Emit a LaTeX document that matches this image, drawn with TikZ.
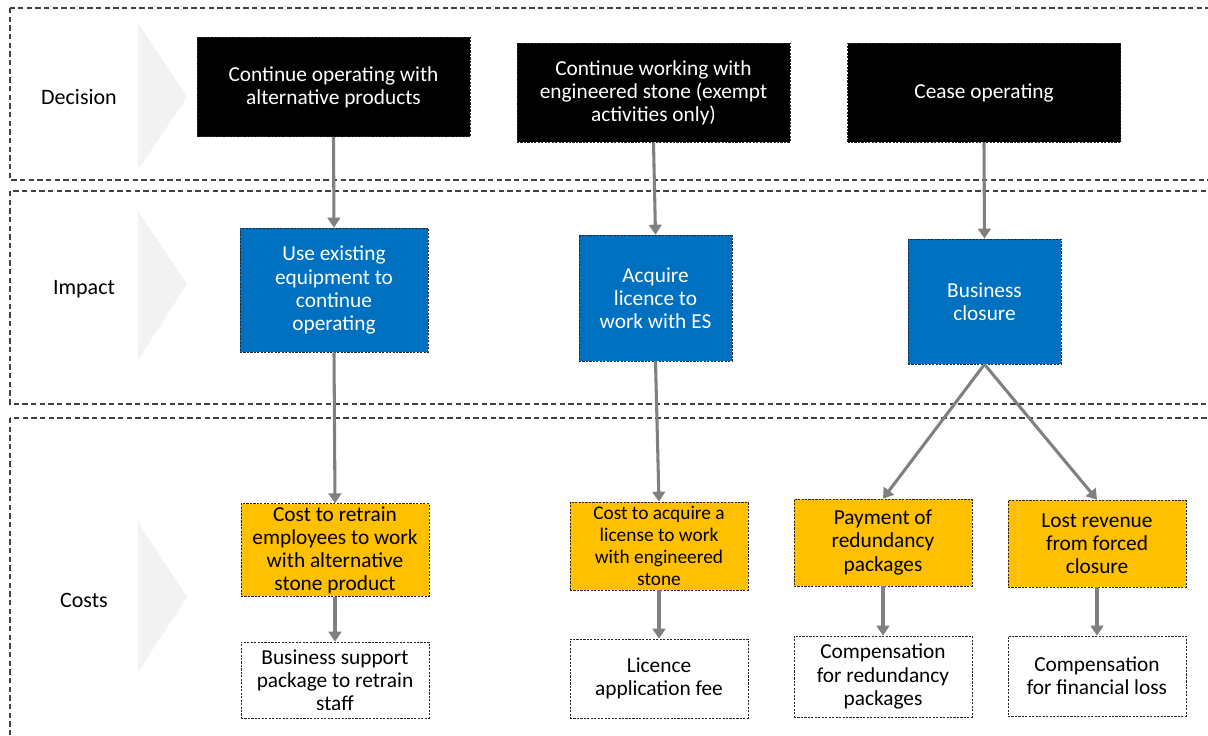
\documentclass[tikz,border=0pt]{standalone}
\usepackage{fontspec}
\setmainfont{Carlito}
\usetikzlibrary{arrows.meta, positioning}

\definecolor{eyblue}{HTML}{0070C0}
\definecolor{eyyellow}{HTML}{FFC000}
\definecolor{arrowgray}{HTML}{808080}
\definecolor{chevgray}{HTML}{F2F2F2}
\definecolor{bandline}{HTML}{404040}

\tikzset{
  box/.style={draw=black!85, dash pattern=on 1.6pt off 1pt, line width=0.5pt, align=center,
    inner sep=2pt, font=\fontsize{16}{17.3}\selectfont},
  decision/.style={box, fill=black, text=white, minimum width=204.75pt, minimum height=74.5pt},
  impact/.style={box, fill=eyblue, text=white},
  cost/.style={box, fill=eyyellow, text=black},
  offset/.style={box, fill=white, text=black},
  band/.style={draw=bandline, line width=0.9pt, dash pattern=on 4pt off 2.5pt},
  chevron/.style={fill=chevgray, draw=none},
  rowlabel/.style={font=\fontsize{16.5}{18}\selectfont, text=black},
  flow/.style={draw=arrowgray, line width=2.3pt, -{Triangle[length=7.5pt, width=9.5pt]}}
}

\begin{document}
\begin{tikzpicture}[x=0.75pt, y=-0.75pt]

  \useasboundingbox (0,0) rectangle (1208,736);
  \clip (0,0) rectangle (1208,736);

  % Baender
  \draw[band] (10,8) rectangle (1240,180);
  \draw[band] (10,191) rectangle (1240,404);
  \draw[band] (10,418) rectangle (1240,770);

  % Pfeile links
  \fill[chevron] (138,23) -- (187,97) -- (138,170) -- cycle;
  \fill[chevron] (138,211) -- (187,284) -- (138,360) -- cycle;
  \fill[chevron] (138,522) -- (187,597) -- (138,672) -- cycle;

  \node[rowlabel] (lbldecision) at (79,97) {Decision};
  \node[rowlabel] (lblimpact) at (84,289) {Impact};
  \node[rowlabel] (lblcosts) at (84,600) {Costs};

  % Entscheidungen
  \node[decision] (altprod) at (333.5,87) {Continue operating with\\alternative products};
  \node[decision] (exempt) at (653.5,92.5) {Continue working with\\engineered stone (exempt\\activities only)};
  \node[decision] (cease) at (984,92.5) {Cease operating};

  % Auswirkungen
  \node[impact, minimum width=141pt, minimum height=93pt] (equip) at (334,290) {Use existing\\equipment to\\continue\\operating};
  \node[impact, minimum width=114.75pt, minimum height=94.5pt] (licence) at (655.5,298) {Acquire\\licence to\\work with ES};
  \node[impact, minimum width=114.75pt, minimum height=93.75pt] (closure) at (984.5,301.5) {Business\\closure};

  % Kosten
  \node[cost, minimum width=141pt, minimum height=67.5pt] (retrain) at (335,550) {Cost to retrain\\employees to work\\with alternative\\stone product};
  \node[cost, minimum width=133.5pt, minimum height=66pt, font=\fontsize{14.5}{16.5}\selectfont] (acquire) at (659,546) {Cost to acquire a\\license to work\\with engineered\\stone};
  \node[cost, minimum width=133.5pt, minimum height=65.25pt] (redund) at (883,542.5) {Payment of\\redundancy\\packages};
  \node[cost, minimum width=133.5pt, minimum height=65.25pt] (revenue) at (1097,543.5) {Lost revenue\\from forced\\closure};

  % Ausgleich
  \node[offset, minimum width=141pt, minimum height=57pt] (support) at (335,680) {Business support\\package to retrain\\staff};
  \node[offset, minimum width=133.5pt, minimum height=59.25pt] (appfee) at (659,678.5) {Licence\\application fee};
  \node[offset, minimum width=133.5pt, minimum height=60.75pt] (compred) at (883,676.5) {Compensation\\for redundancy\\packages};
  \node[offset, minimum width=133.5pt, minimum height=60pt] (compfin) at (1097,676) {Compensation\\for financial loss};

  % Verbindungen
  \draw[flow] (altprod.south) -- (equip.north);
  \draw[flow] (exempt.south) -- (licence.north);
  \draw[flow] (cease.south) -- (closure.north);
  \draw[flow] (equip.south) -- (retrain.north);
  \draw[flow] (licence.south) -- (acquire.north);
  \draw[flow] (closure.south) -- (redund.north);
  \draw[flow] (closure.south) -- (revenue.north);
  \draw[flow] (retrain.south) -- (support.north);
  \draw[flow] (acquire.south) -- (appfee.north);
  \draw[flow] (redund.south) -- (compred.north);
  \draw[flow] (revenue.south) -- (compfin.north);

\end{tikzpicture}
\end{document}
